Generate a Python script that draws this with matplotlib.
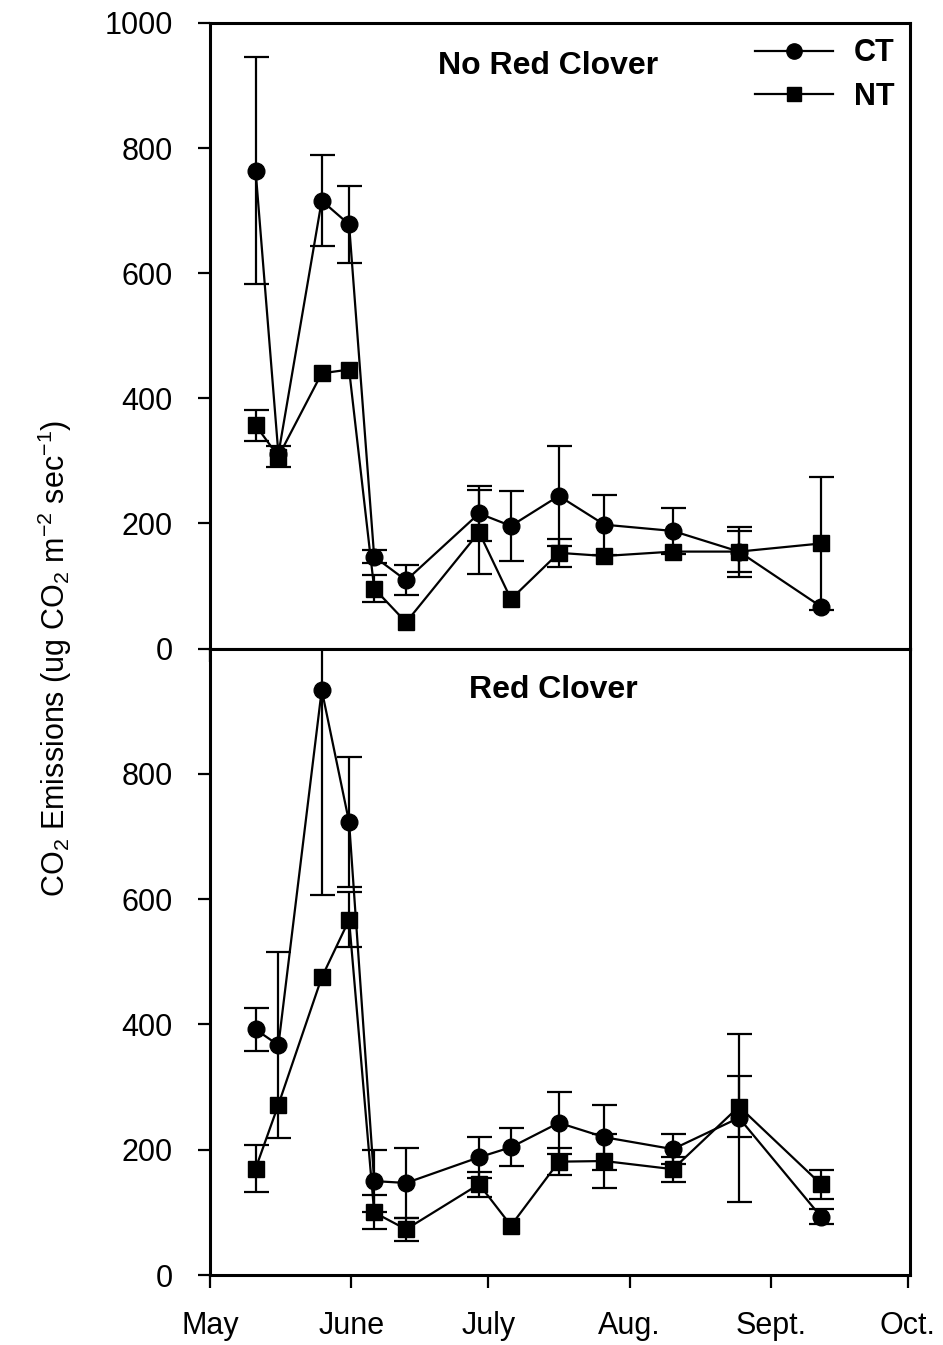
import matplotlib
matplotlib.use('Agg')
import matplotlib.pyplot as plt
from matplotlib.lines import Line2D

plt.rcParams['font.family'] = ['Liberation Sans', 'DejaVu Sans']
plt.rcParams['mathtext.fontset'] = 'custom'
plt.rcParams['mathtext.rm'] = 'Liberation Sans'
plt.rcParams['mathtext.it'] = 'Liberation Sans'
plt.rcParams['mathtext.bf'] = 'Liberation Sans:bold'

nan = float('nan')  # error bar hidden behind the marker

# sampling dates, as days counted from May 1
days = [10, 15, 24.5, 30.5, 36, 43, 59, 66, 76.5, 86.5, 101.5, 116, 134]

# No Red Clover
ct_nrc = [764, 311, 716, 678, 147, 109, 216, 196, 244, 198, 188, 155, 67]
ct_nrc_err = [182, nan, 73, 62, 10, 24, 44, 56, 80, 48, 37, 40, nan]
nt_nrc = [357, 307, 440, 446, 96, 42, 186, 79, 153, 148, 155, 155, 168]
nt_nrc_err = [25, 17, nan, nan, 22, nan, 67, nan, 22, nan, nan, 33, 107]

# Red Clover
ct_rc = [392, 367, 934, 723, 150, 147, 188, 204, 243, 220, 201, 251, 93]
ct_rc_err = [34, 148, 327, 104, 49, 56, 33, 30, 49, 52, 24, 134, 12]
nt_rc = [170, 272, 475, 567, 100, 73, 145, 79, 181, 182, 169, 269, 145]
nt_rc_err = [37, nan, nan, 44, 27, 18, 20, nan, 22, 43, 20, 48, 23]

month_days = [0, 31, 61, 92, 123, 153]
month_labels = ['May', 'June', 'July', 'Aug.', 'Sept.', 'Oct.']

fig = plt.figure(figsize=(9.43, 13.45), dpi=100)
ax1 = fig.add_axes([0.2227, 0.5178, 0.7423, 0.4651])
ax2 = fig.add_axes([0.2227, 0.0520, 0.7423, 0.4658])

lw = 1.6
for ax, ct, cte, nt, nte, title, tx, ty in [
        (ax1, ct_nrc, ct_nrc_err, nt_nrc, nt_nrc_err, 'No Red Clover', 0.483, 0.931),
        (ax2, ct_rc, ct_rc_err, nt_rc, nt_rc_err, 'Red Clover', 0.49, 0.934)]:
    ax.errorbar(days, nt, yerr=nte, fmt='-s', color='black', lw=lw, ms=11,
                elinewidth=lw, capsize=9, capthick=lw)
    ax.errorbar(days, ct, yerr=cte, fmt='-o', color='black', lw=lw, ms=12,
                elinewidth=lw, capsize=9, capthick=lw)
    ax.set_xlim(0, 153.5)
    ax.set_ylim(0, 1000)
    ax.set_xticks(month_days)
    for s in ax.spines.values():
        s.set_linewidth(2.2)
    ax.tick_params(direction='out', length=9, width=1.6, labelsize=22, pad=16)
    ax.tick_params(axis='y', pad=18)
    ax.text(tx, ty, title, transform=ax.transAxes,
            ha='center', va='center', fontsize=23, fontweight='bold')

ax1.set_yticks([0, 200, 400, 600, 800, 1000])
ax1.set_xticklabels([])
ax2.set_yticks([0, 200, 400, 600, 800])
ax2.set_xticklabels(month_labels)
ax2.tick_params(axis='x', pad=17)

handles = [Line2D([], [], color='black', lw=lw, marker='o', ms=11),
           Line2D([], [], color='black', lw=lw, marker='s', ms=9.5)]
ax1.legend(handles, ['CT', 'NT'], loc='upper right', frameon=False,
           prop={'size': 22, 'weight': 'bold'}, handlelength=2.55,
           handletextpad=0.7, labelspacing=0.45, borderaxespad=0.1)

fig.text(55 / 943, 1 - 658 / 1345,
         r'CO$_2$ Emissions (ug CO$_2$ m$^{-2}$ sec$^{-1}$)',
         rotation=90, ha='center', va='center', fontsize=22)

fig.savefig('out.png', dpi=100)
